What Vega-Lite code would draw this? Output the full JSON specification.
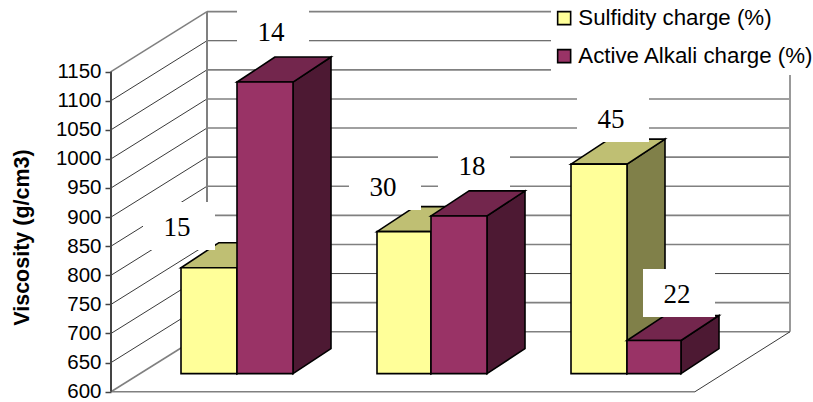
{
  "$schema": "https://vega.github.io/schema/vega-lite/v6.json",
  "width": 813,
  "height": 402,
  "autosize": "none",
  "padding": 0,
  "background": "white",
  "config": {"view": {"stroke": null}},
  "datasets": {
    "grid": [
      {"viscosity": 600}, {"viscosity": 650}, {"viscosity": 700}, {"viscosity": 750},
      {"viscosity": 800}, {"viscosity": 850}, {"viscosity": 900}, {"viscosity": 950},
      {"viscosity": 1000}, {"viscosity": 1050}, {"viscosity": 1100}, {"viscosity": 1150}
    ],
    "bars": [
      {"run": 1, "series": "Sulfidity charge (%)", "viscosity": 782, "label": "15"},
      {"run": 1, "series": "Active Alkali charge (%)", "viscosity": 1101, "label": "14"},
      {"run": 2, "series": "Sulfidity charge (%)", "viscosity": 844, "label": "30"},
      {"run": 2, "series": "Active Alkali charge (%)", "viscosity": 871, "label": "18"},
      {"run": 3, "series": "Sulfidity charge (%)", "viscosity": 960, "label": "45"},
      {"run": 3, "series": "Active Alkali charge (%)", "viscosity": 657, "label": "22"}
    ]
  },
  "encoding": {
    "x": {"field": "h", "type": "quantitative", "scale": {"domain": [0, 813], "nice": false, "zero": false}, "axis": null},
    "y": {
      "field": "vy",
      "type": "quantitative",
      "stack": null,
      "scale": {"domain": [582.3, 1273], "nice": false, "zero": false},
      "axis": {
        "values": [600, 650, 700, 750, 800, 850, 900, 950, 1000, 1050, 1100, 1150],
        "format": "d",
        "offset": -111,
        "domain": false,
        "grid": false,
        "tickSize": 6,
        "tickColor": "#444444",
        "tickWidth": 1.5,
        "labelFont": "Liberation Sans",
        "labelFontSize": 20.5,
        "labelColor": "#000000",
        "labelPadding": 4,
        "title": "Viscosity (g/cm3)",
        "titleFont": "Liberation Sans",
        "titleFontSize": 21.5,
        "titleFontWeight": "bold",
        "titleColor": "#000000",
        "titleX": -78,
        "titleY": 237
      }
    }
  },
  "layer": [
    {
      "data": {"name": "grid"},
      "transform": [
        {"calculate": "207", "as": "h"},
        {"calculate": "790", "as": "h2"},
        {"calculate": "datum.viscosity + 103", "as": "vy"}
      ],
      "mark": {"type": "rule"},
      "encoding": {
        "x2": {"field": "h2"},
        "stroke": {"condition": {"test": "datum.viscosity == 1100 || datum.viscosity == 700", "value": "#444444"}, "value": "#808080"},
        "strokeWidth": {"condition": {"test": "datum.viscosity == 1100 || datum.viscosity == 700", "value": 1}, "value": 1.6}
      }
    },
    {
      "data": {"name": "grid"},
      "transform": [
        {"calculate": "111", "as": "h"},
        {"calculate": "207", "as": "h2"},
        {"calculate": "datum.viscosity", "as": "vy"},
        {"calculate": "datum.viscosity + 103", "as": "vy2"}
      ],
      "mark": {"type": "rule"},
      "encoding": {
        "x2": {"field": "h2"},
        "y2": {"field": "vy2"},
        "stroke": {"condition": {"test": "datum.viscosity == 600 || datum.viscosity == 1150", "value": "#808080"}, "value": "#222222"},
        "strokeWidth": {"condition": {"test": "datum.viscosity == 600 || datum.viscosity == 1150", "value": 1.6}, "value": 0.9}
      }
    },
    {
      "data": {"name": "grid"},
      "transform": [
        {"filter": "datum.viscosity == 600"},
        {"calculate": "207", "as": "h"},
        {"calculate": "703", "as": "vy"},
        {"calculate": "1253", "as": "vy2"}
      ],
      "mark": {"type": "rule", "stroke": "#808080", "strokeWidth": 2},
      "encoding": {"y2": {"field": "vy2"}}
    },
    {
      "data": {"name": "grid"},
      "transform": [
        {"filter": "datum.viscosity == 600"},
        {"calculate": "790", "as": "h"},
        {"calculate": "703", "as": "vy"},
        {"calculate": "1253", "as": "vy2"}
      ],
      "mark": {"type": "rule", "stroke": "#999999", "strokeWidth": 2},
      "encoding": {"y2": {"field": "vy2"}}
    },
    {
      "data": {"name": "grid"},
      "transform": [
        {"filter": "datum.viscosity == 600"},
        {"calculate": "111", "as": "h"},
        {"calculate": "695", "as": "h2"},
        {"calculate": "600", "as": "vy"}
      ],
      "mark": {"type": "rule", "stroke": "#808080", "strokeWidth": 1.6},
      "encoding": {"x2": {"field": "h2"}}
    },
    {
      "data": {"name": "grid"},
      "transform": [
        {"filter": "datum.viscosity == 600"},
        {"calculate": "695", "as": "h"},
        {"calculate": "790", "as": "h2"},
        {"calculate": "600", "as": "vy"},
        {"calculate": "703", "as": "vy2"}
      ],
      "mark": {"type": "rule", "stroke": "#222222", "strokeWidth": 0.9},
      "encoding": {"x2": {"field": "h2"}, "y2": {"field": "vy2"}}
    },
    {
      "data": {"name": "grid"},
      "transform": [
        {"filter": "datum.viscosity == 600"},
        {"calculate": "111", "as": "h"},
        {"calculate": "600", "as": "vy"},
        {"calculate": "1150", "as": "vy2"}
      ],
      "mark": {"type": "rule", "stroke": "#444444", "strokeWidth": 2},
      "encoding": {"y2": {"field": "vy2"}}
    },
    {
      "data": {"name": "bars"},
      "transform": [
        {"calculate": "(datum.run - 1) * 2 + (datum.series == 'Sulfidity charge (%)' ? 0 : 1)", "as": "slot"},
        {"calculate": "[181, 237, 377, 431, 571, 627][datum.slot]", "as": "xl"},
        {"calculate": "[237, 293, 431, 487, 627, 681][datum.slot]", "as": "xr"},
        {"calculate": "datum.viscosity + 31", "as": "front"},
        {"calculate": "631", "as": "base"},
        {"calculate": "[0, 1]", "as": "t"}
      ],
      "layer": [
        {
          "transform": [
            {"filter": "datum.series == 'Sulfidity charge (%)'"},
            {"flatten": ["t"]},
            {"calculate": "datum.xr + datum.t * 38", "as": "h"},
            {"calculate": "datum.base + datum.t * 43", "as": "vy"},
            {"calculate": "datum.front + datum.t * 43", "as": "vy2"}
          ],
          "mark": {"type": "area", "fill": "#808049", "stroke": "#000000", "strokeWidth": 1.6},
          "encoding": {"y2": {"field": "vy2"}, "detail": {"field": "slot"}}
        },
        {
          "transform": [
            {"filter": "datum.series == 'Sulfidity charge (%)'"},
            {"flatten": ["t"]},
            {"calculate": "datum.xl + datum.t * 38", "as": "h"},
            {"calculate": "datum.xr + datum.t * 38", "as": "h2"},
            {"calculate": "datum.front + datum.t * 43", "as": "vy"}
          ],
          "mark": {"type": "area", "orient": "horizontal", "fill": "#BFBF73", "stroke": "#000000", "strokeWidth": 1.6},
          "encoding": {"x2": {"field": "h2"}, "detail": {"field": "slot"}}
        },
        {
          "transform": [
            {"filter": "datum.series == 'Sulfidity charge (%)'"},
            {"calculate": "datum.xl", "as": "h"},
            {"calculate": "datum.front", "as": "vy"}
          ],
          "mark": {"type": "rect", "stroke": "#000000", "strokeWidth": 1.6},
          "encoding": {
            "x2": {"field": "xr"},
            "y2": {"field": "base"},
            "fill": {
              "field": "series",
              "type": "nominal",
              "scale": {"domain": ["Sulfidity charge (%)", "Active Alkali charge (%)"], "range": ["#FFFF99", "#993366"]},
              "legend": {
                "orient": "none",
                "legendX": 551,
                "legendY": 0,
                "title": null,
                "fillColor": "#FFFFFF",
                "padding": 7,
                "symbolType": "square",
                "symbolSize": 169,
                "symbolOffset": -5,
                "symbolStrokeColor": "#000000",
                "symbolStrokeWidth": 1.6,
                "labelFont": "Liberation Sans",
                "labelFontSize": 22.3,
                "labelColor": "#000000",
                "labelOffset": 3,
                "labelLimit": 300,
                "rowPadding": 15
              }
            }
          }
        },
        {
          "transform": [
            {"filter": "datum.series != 'Sulfidity charge (%)'"},
            {"flatten": ["t"]},
            {"calculate": "datum.xr + datum.t * 38", "as": "h"},
            {"calculate": "datum.base + datum.t * 43", "as": "vy"},
            {"calculate": "datum.front + datum.t * 43", "as": "vy2"}
          ],
          "mark": {"type": "area", "fill": "#4D1933", "stroke": "#000000", "strokeWidth": 1.6},
          "encoding": {"y2": {"field": "vy2"}, "detail": {"field": "slot"}}
        },
        {
          "transform": [
            {"filter": "datum.series != 'Sulfidity charge (%)'"},
            {"flatten": ["t"]},
            {"calculate": "datum.xl + datum.t * 38", "as": "h"},
            {"calculate": "datum.xr + datum.t * 38", "as": "h2"},
            {"calculate": "datum.front + datum.t * 43", "as": "vy"}
          ],
          "mark": {"type": "area", "orient": "horizontal", "fill": "#73264D", "stroke": "#000000", "strokeWidth": 1.6},
          "encoding": {"x2": {"field": "h2"}, "detail": {"field": "slot"}}
        },
        {
          "transform": [
            {"filter": "datum.series != 'Sulfidity charge (%)'"},
            {"calculate": "datum.xl", "as": "h"},
            {"calculate": "datum.front", "as": "vy"}
          ],
          "mark": {"type": "rect", "stroke": "#000000", "strokeWidth": 1.6},
          "encoding": {
            "x2": {"field": "xr"},
            "y2": {"field": "base"},
            "fill": {"field": "series", "type": "nominal"}
          }
        },
        {
          "transform": [
            {"calculate": "[179, 273, 385, 474, 613, 679][datum.slot] - 36", "as": "h"},
            {"calculate": "datum.h + 72", "as": "h2"},
            {"calculate": "[884.7, 1219.8, 953.4, 989.5, 1070.3, 769.6][datum.slot] - 41.2", "as": "vy"},
            {"calculate": "datum.vy + 82.4", "as": "vy2"}
          ],
          "mark": {"type": "rect", "fill": "#FFFFFF", "stroke": null},
          "encoding": {"x2": {"field": "h2"}, "y2": {"field": "vy2"}}
        },
        {
          "transform": [
            {"calculate": "[177, 271, 383, 472, 611, 677][datum.slot]", "as": "h"},
            {"calculate": "[884.7, 1219.8, 953.4, 989.5, 1070.3, 769.6][datum.slot] - 3.4", "as": "vy"}
          ],
          "mark": {"type": "text", "font": "Liberation Serif", "fontSize": 27, "color": "#000000", "align": "center", "baseline": "middle"},
          "encoding": {"text": {"field": "label"}}
        }
      ]
    }
  ]
}
